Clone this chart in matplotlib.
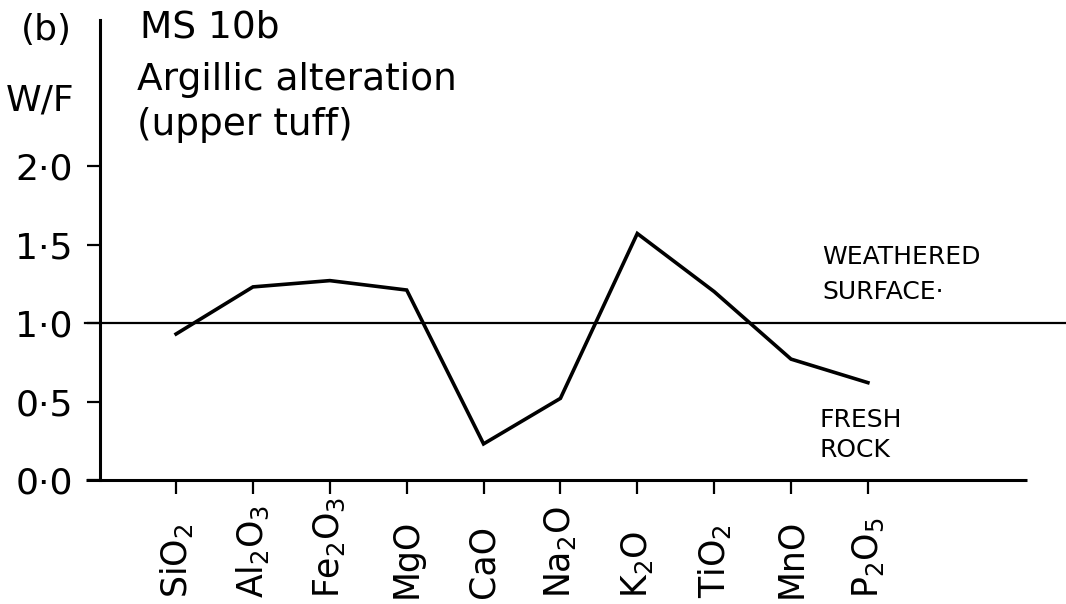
import matplotlib
matplotlib.use("Agg")
import matplotlib.pyplot as plt
import matplotlib.transforms as mtransforms

plt.rcParams['font.family'] = ['DejaVu Sans']
plt.rcParams['mathtext.default'] = 'regular'

# oxides and weathered / fresh ratios
oxides = ['SiO$_2$', 'Al$_2$O$_3$', 'Fe$_2$O$_3$', 'MgO', 'CaO',
          'Na$_2$O', 'K$_2$O', 'TiO$_2$', 'MnO', 'P$_2$O$_5$']
ratio = [0.93, 1.23, 1.27, 1.21, 0.23, 0.52, 1.57, 1.20, 0.77, 0.62]
yticks = [0.0, 0.5, 1.0, 1.5, 2.0]
ytick_labels = ['0·0', '0·5', '1·0', '1·5', '2·0']

W, H = 1066, 604
fig = plt.figure(figsize=(W / 100, H / 100), dpi=100)
ax = fig.add_axes([100 / W, 1 - 480 / H, 927 / W, 460 / H])

x = list(range(len(oxides)))
ax.plot(x, ratio, color='black', lw=2.6, solid_joinstyle='miter')

# reference line at W/F = 1
ax.axhline(1.0, xmin=-0.016, xmax=1.042, color='black', lw=1.6, clip_on=False)

ax.set_xlim(-0.99, 11.07)
ax.set_ylim(0, 2.93)

for s in ['top', 'right', 'bottom']:
    ax.spines[s].set_visible(False)
ax.spines['left'].set_linewidth(2.2)
ax.plot([-0.015, 1], [0, 0], transform=ax.transAxes, color='black',
        lw=2.2, clip_on=False, solid_capstyle='butt')

ax.set_yticks(yticks)
ax.set_yticklabels(ytick_labels, fontsize=26)
ax.tick_params(axis='y', direction='out', length=9.5, width=1.6, pad=10)
ax.set_xticks(x)
ax.set_xticklabels([])
ax.tick_params(axis='x', direction='out', length=10, width=1.6)

# oxide labels, rotated and bottom-aligned
trans = mtransforms.blended_transform_factory(ax.transData, fig.transFigure)
for xi, lab in zip(x, oxides):
    ax.text(xi, 1 - 598 / H, lab, rotation=90, ha='center', va='bottom',
            fontsize=25, transform=trans)

def ftext(px, py, s, **kw):
    fig.text(px / W, 1 - py / H, s, **kw)

ftext(46, 30, '(b)', fontsize=26, ha='center', va='center')
ftext(40, 100, 'W/F', fontsize=26, ha='center', va='center')
ftext(140, 28, 'MS 10b', fontsize=27, ha='left', va='center')
ftext(137, 80, 'Argillic alteration', fontsize=27, ha='left', va='center')
ftext(137, 125, '(upper tuff)', fontsize=27, ha='left', va='center')

ftext(822, 257, 'WEATHERED', fontsize=18, ha='left', va='center')
ftext(822, 292, 'SURFACE·', fontsize=18, ha='left', va='center')
ftext(820, 420, 'FRESH', fontsize=18, ha='left', va='center')
ftext(820, 450, 'ROCK', fontsize=18, ha='left', va='center')

fig.savefig('out.png', dpi=100)
